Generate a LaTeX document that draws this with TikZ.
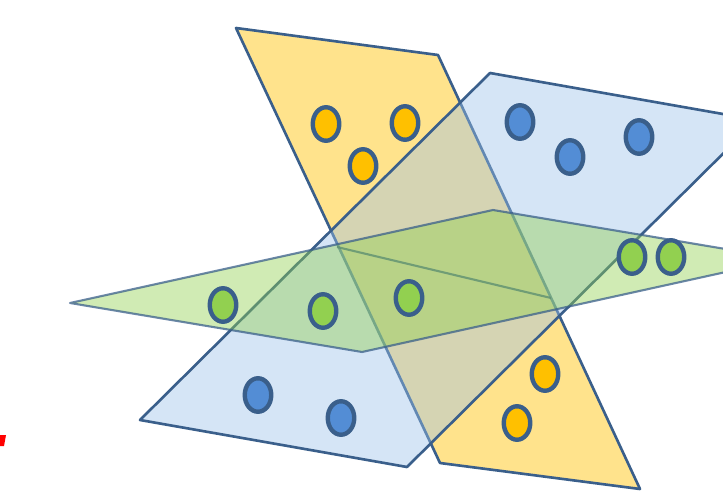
\documentclass[tikz,border=0pt]{standalone}
\usepackage{tikz}
\usetikzlibrary{shapes.geometric}
\definecolor{edgeblue}{RGB}{58,95,139}
\definecolor{yellowfill}{RGB}{255,192,0}
\definecolor{bluefill}{RGB}{155,193,234}
\definecolor{greenfill}{RGB}{146,208,80}
\definecolor{bluedotfill}{RGB}{83,141,213}
\tikzset{
  plane/.style={
    draw=edgeblue,
    line width=1.5pt,
    line join=round
  },
  yellowplane/.style={
    plane,
    fill=yellowfill,
    fill opacity=0.45
  },
  blueplane/.style={
    plane,
    fill=bluefill,
    fill opacity=0.42
  },
  greenplane/.style={
    plane,
    line width=1.2pt,
    draw opacity=0.75,
    fill=greenfill,
    fill opacity=0.43
  },
  dot/.style={
    ellipse,
    draw=edgeblue,
    line width=2.5pt,
    minimum width=5.3mm,
    minimum height=6.7mm,
    inner sep=0pt
  },
  ydot/.style={dot, fill=yellowfill},
  bdot/.style={dot, fill=bluedotfill},
  gdot/.style={dot, fill=greenfill}
}
\begin{document}
\begin{tikzpicture}[x=0.02cm, y=-0.02cm]
  \useasboundingbox (0,0) rectangle (723,493);
  \clip (0,0) rectangle (723,493);

  \coordinate (y1) at (236,28);
  \coordinate (y2) at (438,55);
  \coordinate (y3) at (640,489);
  \coordinate (y4) at (440,463);
  \coordinate (b1) at (490,73);
  \coordinate (b2) at (757,120);
  \coordinate (b3) at (407,467);
  \coordinate (b4) at (140,420);
  \coordinate (g1) at (70,303);
  \coordinate (g2) at (493,210);
  \coordinate (g3) at (785,259);
  \coordinate (g4) at (362,352);
  \coordinate (cutl) at (337,247);
  \coordinate (cutr) at (551,298);

  \fill[red] (0,435) -- (6,435) -- (4,446) -- (0,446) -- cycle;

  \path[yellowplane] (y1) -- (y2) -- (y3) -- (y4) -- cycle;
  \path[blueplane] (b1) -- (b2) -- (b3) -- (b4) -- cycle;
  \draw[edgeblue, line width=1.2pt, opacity=0.8] (cutl) -- (cutr);
  \path[greenplane] (g1) -- (g2) -- (g3) -- (g4) -- cycle;

  \node[ydot] (ya) at (326,124) {};
  \node[ydot] (yb) at (405,123) {};
  \node[ydot] (yc) at (363,166) {};
  \node[ydot] (yd) at (545,374) {};
  \node[ydot] (ye) at (517,423) {};

  \node[bdot] (ba) at (520,122) {};
  \node[bdot] (bb) at (570,157) {};
  \node[bdot] (bc) at (639,137) {};
  \node[bdot] (bd) at (258,395) {};
  \node[bdot] (be) at (341,418) {};

  \node[gdot] (ga) at (223,305) {};
  \node[gdot] (gb) at (323,311) {};
  \node[gdot] (gc) at (409,298) {};
  \node[gdot] (gd) at (632,257) {};
  \node[gdot] (ge) at (671,257) {};
\end{tikzpicture}
\end{document}
